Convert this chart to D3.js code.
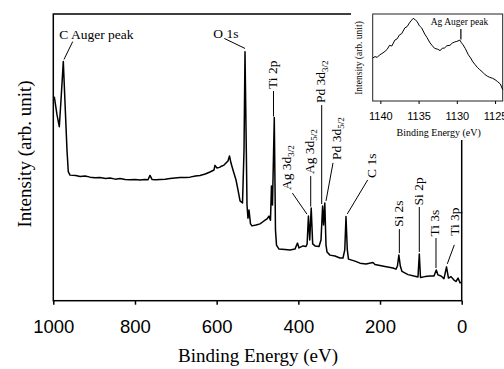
<!DOCTYPE html>
<html>
<head>
<meta charset="utf-8">
<script src="https://cdn.jsdelivr.net/npm/d3@7"></script>
<style>
  body { margin: 0; background: #fff; }
</style>
</head>
<body>
<div id="chart"></div>
<script>
// survey spectrum (binding energy in eV, intensity in arb. units 0-100)
const surveyBE = [997.6, 990.9, 985.3, 981.1, 975.5, 970.6, 966.5, 963.3, 959.1, 945, 934.6, 922, 910.1, 898, 885.7, 872, 861.2, 848, 836.7, 824, 812.2, 800, 787.7, 776, 768.1, 763.2, 758.3, 748, 738.7, 726, 714.3, 702, 689.8, 677, 665.3, 652, 640.8, 628, 616.4, 606.5, 604.1, 599.2, 593, 587.0, 582, 577.2, 572.3, 568.6, 564.9, 560.0, 552.6, 547.7, 542.8, 536.7, 533.0, 530.6, 527.4, 525.7, 523.3, 520.8, 517.1, 513.5, 503.7, 493.9, 484.1, 476.7, 471.9, 468.2, 465.8, 463.3, 458.9, 456.0, 453.5, 447.4, 432.7, 420.5, 408.3, 402.1, 398.4, 388.6, 381.3, 378.5, 375.3, 372.1, 368.5, 364.9, 359.2, 349.4, 344.5, 340.6, 338.2, 335.2, 332.3, 329.8, 322.5, 310.3, 298.1, 290.7, 286.3, 283.3, 280.1, 277.2, 261.3, 249.1, 234.4, 217.3, 212.4, 187.9, 168.3, 161.0, 157.3, 153.9, 150.3, 146.2, 131.5, 116.8, 107.0, 103.8, 100.9, 89.9, 77.6, 67.8, 62.2, 58.1, 50.7, 43.4, 37.2, 32.4, 26.2, 18.9, 14, 8.9, 4.0, 0.3]
const surveyIntensity = [71.2, 64.8, 60.7, 70.0, 83.4, 66.5, 52.6, 45.0, 43.8, 43.7, 43.3, 43.5, 43.1, 42.9, 43.0, 42.6, 42.8, 42.4, 42.6, 42.3, 42.2, 42.3, 42.1, 42.3, 42.2, 43.7, 42.3, 42.2, 42.3, 42.4, 42.6, 42.8, 43.0, 43.0, 43.1, 43.5, 43.7, 44.2, 44.9, 45.6, 47.2, 46.3, 46.5, 47.0, 47.3, 48.0, 48.7, 50.5, 48.0, 45.6, 42.1, 38.6, 34.8, 34.1, 52.6, 86.8, 52.6, 33.4, 28.8, 31.6, 26.8, 26.1, 26.4, 26.8, 27.8, 28.5, 29.5, 28.1, 40.0, 33.4, 63.9, 24.7, 19.4, 18.0, 17.9, 17.7, 18.0, 20.1, 18.4, 19.1, 18.9, 19.8, 29.5, 21.2, 32.3, 19.8, 19.1, 18.9, 21.2, 33.0, 26.4, 34.1, 19.4, 17.0, 15.9, 15.6, 14.9, 14.9, 17.7, 29.4, 17.7, 14.5, 13.8, 13.1, 12.8, 13.3, 12.6, 11.9, 11.4, 11.0, 12.1, 15.9, 12.1, 10.2, 9.1, 8.6, 8.3, 16.3, 8.1, 8.4, 8.6, 8.6, 10.7, 9.0, 8.6, 7.7, 11.8, 7.9, 8.4, 7.2, 6.7, 7.9, 6.2, 6.5]

// Ag Auger region (inset)
const insetBE = [1141.0, 1140.7, 1140.4, 1140.1, 1139.8, 1139.4, 1139.1, 1138.8, 1138.5, 1138.1, 1137.8, 1137.5, 1137.2, 1136.8, 1136.5, 1136.2, 1135.9, 1135.7, 1135.4, 1135.2, 1134.9, 1134.6, 1134.2, 1133.9, 1133.5, 1133.2, 1132.9, 1132.5, 1132.2, 1131.9, 1131.6, 1131.3, 1130.9, 1130.6, 1130.3, 1130.0, 1129.6, 1129.4, 1129.2, 1128.9, 1128.5, 1128.2, 1127.9, 1127.6, 1127.3, 1127.0, 1126.6, 1126.3, 1126.0, 1125.7, 1125.3, 1125.0, 1124.7, 1124.3, 1124.0]
const insetIntensity = [49.4, 51.0, 50.2, 53.0, 54.5, 57.0, 59.5, 64.0, 63.2, 70.0, 71.5, 76.0, 77.5, 84.0, 85.5, 89.7, 93.0, 95.0, 93.0, 91.5, 86.5, 84.0, 77.0, 73.0, 66.7, 63.5, 60.5, 59.5, 58.0, 60.5, 61.0, 63.5, 64.0, 66.5, 67.8, 68.5, 70.0, 67.0, 64.7, 60.5, 53.2, 49.5, 45.0, 41.7, 38.5, 36.0, 33.0, 30.2, 28.5, 27.2, 26.0, 24.5, 22.5, 19.5, 13.0]

const xTicks = [1000, 800, 600, 400, 200, 0]
const insetTicks = [1140, 1135, 1130, 1125]

// peak labels
const peakNames = ["C Auger peak", "O 1s", "Ti 2p", "Ag 3d", "Ag 3d", "Pd 3d", "Pd 3d", "C 1s", "Si 2s", "Si 2p", "Ti 3s", "Ti 3p"]
const peakSubs = ["", "", "", "3/2", "5/2", "3/2", "5/2", "", "", "", "", ""]
const peakBE = [975.5, 530.6, 458.9, 375.3, 368.5, 340.6, 335.2, 283.3, 153.9, 103.8, 62.2, 37.2]

const serif = "'Liberation Serif', 'Times New Roman', serif"
const sans = "'Liberation Sans', Arial, sans-serif"

width = 504
height = 369

let svg = d3.select("#chart")
  .append("svg")
  .attr("width", width)
  .attr("height", height)

let x = d3.scaleLinear().domain([1000, 0]).range([53.3, 461.7])
let y = d3.scaleLinear().domain([0, 100]).range([300.7, 14])

// frame
svg.append("rect")
  .attr("x", x(1000))
  .attr("y", y(100))
  .attr("width", x(0) - x(1000))
  .attr("height", y(0) - y(100))
  .attr("fill", "none")
  .attr("stroke", "#000")
  .attr("stroke-width", 1.5)

let xAxis = svg.append("g")
  .attr("transform", "translate(0," + y(0) + ")")
  .call(d3.axisBottom(x).tickValues(xTicks).tickSize(4).tickSizeOuter(0).tickPadding(15).tickFormat(d3.format("d")))
xAxis.select(".domain").remove()
xAxis.selectAll("line").attr("stroke", "#000").attr("stroke-width", 1.5)
xAxis.selectAll("text").attr("font-family", sans).attr("font-size", 18.5).attr("fill", "#000")

svg.append("text")
  .attr("x", 258)
  .attr("y", 362)
  .attr("text-anchor", "middle")
  .attr("font-family", serif)
  .attr("font-size", 19)
  .text("Binding Energy (eV)")

svg.append("text")
  .attr("transform", "translate(31,154) rotate(-90)")
  .attr("text-anchor", "middle")
  .attr("font-family", serif)
  .attr("font-size", 19)
  .text("Intensity (arb. unit)")

let line = d3.line()
  .x((d, i) => x(surveyBE[i]))
  .y(d => y(d))

svg.append("path")
  .datum(surveyIntensity)
  .attr("d", line)
  .attr("fill", "none")
  .attr("stroke", "#000")
  .attr("stroke-width", 1.5)
  .attr("stroke-linejoin", "round")

// label layout: text offset (tx,ty), connector from (l1x,l1y) to (l2x,l2y), all relative to peak top
let layout = [
  { rot: false, tx: -4, ty: -22.4, l: [9.4, -20, 0.7, -2.2] },
  { rot: false, tx: -31.7, ty: -13.7, l: [-20.7, -13.4, 0, -3.4] },
  { rot: true, tx: 2.8, ty: -28.5, l: [-0.8, -26.5, -0.8, -1] },
  { rot: true, tx: -17.5, ty: -26, l: [-16, -23, -1.5, -2] },
  { rot: true, tx: 3, ty: -34, l: [-0.5, -32, -0.5, -1.5] },
  { rot: true, tx: 2.6, ty: -103, l: [-0.9, -101, -0.9, -2] },
  { rot: true, tx: 16.2, ty: -43, l: [8.2, -40, 1.2, -2] },
  { rot: true, tx: 30, ty: -38.5, l: [21.7, -36.5, 1.3, -2.5] },
  { rot: true, tx: 4, ty: -28, l: [0.5, -26, 0.5, -2] },
  { rot: true, tx: 3.5, ty: -48.5, l: [0, -47, 0, -2] },
  { rot: true, tx: 3.2, ty: -33.5, l: [-0.3, -32, -0.3, -2] },
  { rot: true, tx: 12.8, ty: -31, l: [7.8, -22, 0.8, -3] }
]

let labels = svg.append("g")
peakNames.forEach((name, i) => {
  let k = surveyBE.indexOf(peakBE[i])
  let px = x(peakBE[i]), py = y(surveyIntensity[k])
  let o = layout[i]
  labels.append("line")
    .attr("x1", px + o.l[0]).attr("y1", py + o.l[1])
    .attr("x2", px + o.l[2]).attr("y2", py + o.l[3])
    .attr("stroke", "#000")
    .attr("stroke-width", 1)
  let t = labels.append("text")
    .attr("transform", "translate(" + (px + o.tx) + "," + (py + o.ty) + ")" + (o.rot ? " rotate(-90)" : ""))
    .attr("font-family", serif)
    .attr("font-size", 13.5)
  t.append("tspan").text(name)
  if (peakSubs[i]) {
    t.append("tspan").attr("font-size", 9).attr("dy", 3).text(peakSubs[i])
  }
})

// inset
let inset = svg.append("g")
inset.append("rect")
  .attr("x", 351).attr("y", 0)
  .attr("width", 153).attr("height", 140)
  .attr("fill", "#fff")

let ix = d3.scaleLinear().domain([1141, 1124]).range([372.7, 502.7])
let iy = d3.scaleLinear().domain([0, 100]).range([101, 14])

inset.append("rect")
  .attr("x", ix(1141)).attr("y", iy(100))
  .attr("width", ix(1124) - ix(1141))
  .attr("height", iy(0) - iy(100))
  .attr("fill", "none")
  .attr("stroke", "#222")
  .attr("stroke-width", 1)

let iAxis = inset.append("g")
  .attr("transform", "translate(0," + iy(0) + ")")
  .call(d3.axisBottom(ix).tickValues(insetTicks).tickSize(3).tickSizeOuter(0).tickPadding(8.5).tickFormat(d3.format("d")))
iAxis.select(".domain").remove()
iAxis.selectAll("text").attr("font-family", sans).attr("font-size", 11).attr("fill", "#000")

inset.append("path")
  .datum(insetIntensity)
  .attr("d", d3.line().x((d, i) => ix(insetBE[i])).y(d => iy(d)))
  .attr("fill", "none")
  .attr("stroke", "#000")
  .attr("stroke-width", 1)

inset.append("text")
  .attr("x", 438.7).attr("y", 135.5)
  .attr("text-anchor", "middle")
  .attr("font-family", serif)
  .attr("font-size", 10)
  .text("Binding Energy (eV)")

inset.append("text")
  .attr("transform", "translate(362,58) rotate(-90)")
  .attr("text-anchor", "middle")
  .attr("font-family", serif)
  .attr("font-size", 9.5)
  .text("Intensity (arb. unit)")

let agPeak = insetBE.indexOf(1129.6)
inset.append("line")
  .attr("x1", ix(insetBE[agPeak]) + 1).attr("y1", iy(insetIntensity[agPeak]) - 11)
  .attr("x2", ix(insetBE[agPeak]) + 1).attr("y2", iy(insetIntensity[agPeak]) - 0.5)
  .attr("stroke", "#000")
  .attr("stroke-width", 1.2)

inset.append("text")
  .attr("x", 459.5).attr("y", 24.5)
  .attr("text-anchor", "middle")
  .attr("font-family", serif)
  .attr("font-size", 9.5)
  .text("Ag Auger peak")
</script>
</body>
</html>
